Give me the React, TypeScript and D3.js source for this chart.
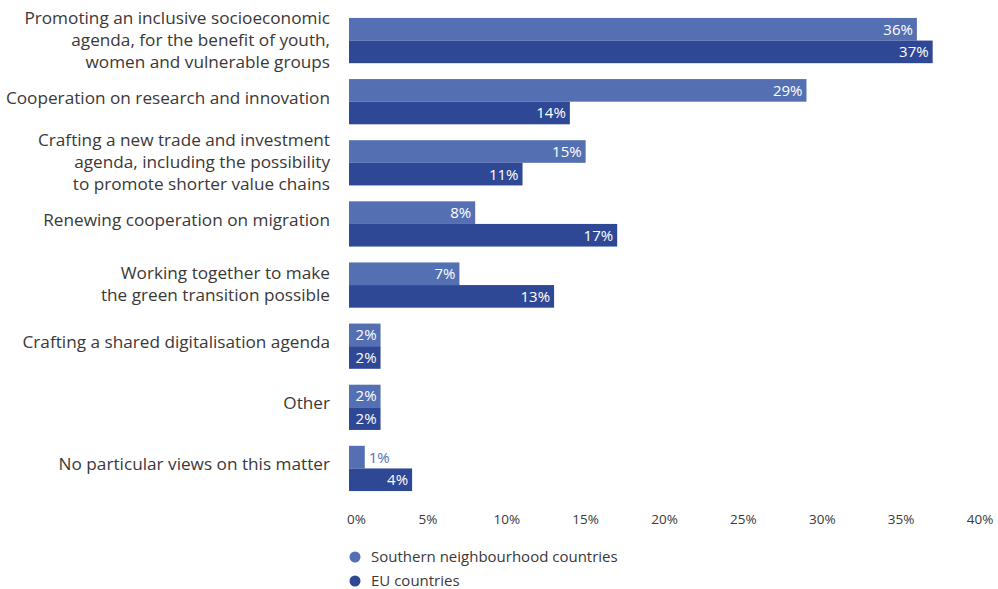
import React from "react";
import * as d3 from "d3";

const categories: string[][] = [
  ["Promoting an inclusive socioeconomic", "agenda, for the benefit of youth,", "women and vulnerable groups"],
  ["Cooperation on research and innovation"],
  ["Crafting a new trade and investment", "agenda, including the possibility", "to promote shorter value chains"],
  ["Renewing cooperation on migration"],
  ["Working together to make", "the green transition possible"],
  ["Crafting a shared digitalisation agenda"],
  ["Other"],
  ["No particular views on this matter"],
];
const southern = [36, 29, 15, 8, 7, 2, 2, 1];
const eu = [37, 14, 11, 17, 13, 2, 2, 4];
const ticks = [0, 5, 10, 15, 20, 25, 30, 35, 40];
const seriesNames = ["Southern neighbourhood countries", "EU countries"];
const colors = ["#5470b3", "#2e4895"];

const W = 998;
const H = 589;
const FONT = "'Open Sans', 'Noto Sans', sans-serif";
const TEXT = "#3b3838";

export default function App() {
  const x = d3.scaleLinear().domain([0, 40]).range([349, 980]);
  const keys = categories.map((_, i) => String(i));
  const y = d3.scaleBand().domain(keys).range([10, 499]).paddingInner(0.26).paddingOuter(0.13);
  const sub = d3.scaleBand().domain(["0", "1"]).range([0, y.bandwidth()]);
  const series = [southern, eu];
  const lineH = 22;

  return (
    <svg width={W} height={H} style={{ position: "absolute", left: 0, top: 0 }} fontFamily={FONT}>
      {categories.map((lines, i) => {
        const cy = (y(String(i)) as number) + y.bandwidth() / 2 - (lines.length === 1 ? 4 : 1);
        const start = cy - ((lines.length - 1) * lineH) / 2;
        return (
          <g key={"c" + i}>
            {lines.map((ln, j) => (
              <text key={j} x={330} y={start + j * lineH} dy="0.35em" textAnchor="end" fontSize={17.2} fill={TEXT}>
                {ln}
              </text>
            ))}
            {series.map((s, k) => {
              const by = (y(String(i)) as number) + (sub(String(k)) as number);
              const bw = x(s[i]) - x(0);
              const inside = bw > 30;
              return (
                <g key={k}>
                  <rect x={x(0)} y={by} width={bw} height={sub.bandwidth()} fill={colors[k]} />
                  <text
                    x={inside ? x(s[i]) - 4 : x(s[i]) + 4}
                    y={by + sub.bandwidth() / 2}
                    dy="0.36em"
                    textAnchor={inside ? "end" : "start"}
                    fontSize={15}
                    fill={inside ? "#ffffff" : colors[k]}
                  >
                    {s[i] + "%"}
                  </text>
                </g>
              );
            })}
          </g>
        );
      })}
      {ticks.map((t, i) => (
        <text
          key={"t" + t}
          x={i === 0 ? x(t) - 2 : x(t)}
          y={519}
          dy="0.35em"
          textAnchor={i === 0 ? "start" : "middle"}
          fontSize={13.5}
          fill={TEXT}
        >
          {t + "%"}
        </text>
      ))}
      {seriesNames.map((n, k) => (
        <g key={"l" + k}>
          <circle cx={355} cy={557 + k * 24} r={5.5} fill={colors[k]} />
          <text x={371} y={557 + k * 24} dy="0.35em" fontSize={15} fill={TEXT}>
            {n}
          </text>
        </g>
      ))}
    </svg>
  );
}
